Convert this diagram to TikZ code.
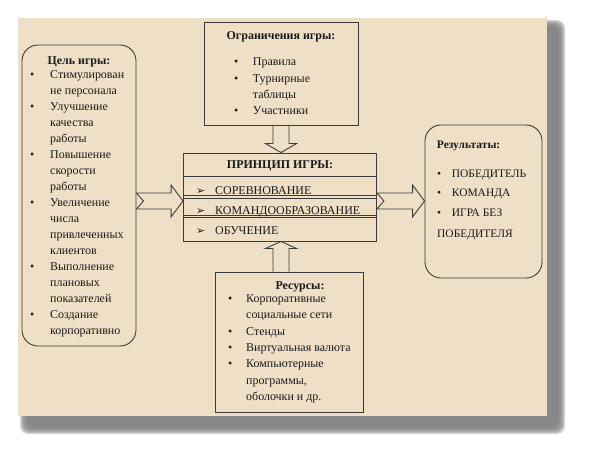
\documentclass[tikz,border=0pt]{standalone}
\usepackage{fontspec}
\setmainfont{Liberation Serif}
\newfontfamily\dingfont{DejaVu Sans}
\usepackage{tikz}
\usetikzlibrary{calc}
\definecolor{sheetBg}{HTML}{EFDFC7}
\definecolor{lineCol}{HTML}{3C3C3C}
\definecolor{textCol}{HTML}{1A1A1A}
\newcommand{\arrowmark}{{\dingfont\fontsize{11}{11}\selectfont ➢}}

\begin{document}
\begin{tikzpicture}[
    x=1bp, y=-1bp,
    box/.style={draw=lineCol, line width=0.9bp, inner sep=0pt},
    roundbox/.style={box, rounded corners=16bp},
    rowline/.style={draw=lineCol, line width=0.9bp},
    txt/.style={inner sep=0pt, anchor=base west, text=textCol,
                font=\fontsize{12}{16}\selectfont},
    head/.style={txt, anchor=base,
                 font=\fontsize{12}{16}\selectfont\bfseries},
    blockarr/.style={draw=lineCol, line width=0.9bp, line join=miter},
]
\useasboundingbox (0,0) rectangle (589,455);

% Sheet with its shadow
\foreach \i in {0,...,7}
  \fill[black!50, opacity=0.3, rounded corners=8bp]
    ({20+\i},{20+\i}) rectangle ({565-\i},{434-\i});
\fill[sheetBg] (18,18) rectangle (547,416);

% Boxes
\node[roundbox, minimum width=114bp, minimum height=301bp] (goal) at (79,195.5) {};
\node[box, minimum width=154bp, minimum height=103bp] (lim) at (281,73.5) {};
\node[box, minimum width=193bp, minimum height=88bp] (princ) at (280,197) {};
\node[roundbox, minimum width=117bp, minimum height=153bp] (res) at (483.5,201.5) {};
\node[box, minimum width=148bp, minimum height=140bp] (rsrc) at (289,342) {};

% Rows of the principle box
\draw[rowline] (princ.west |- 0,176) -- (princ.east |- 0,176);
\draw[rowline] (princ.west |- 0,195.5) -- (princ.east |- 0,195.5);
\draw[rowline] (princ.west |- 0,198) -- (princ.east |- 0,198);
\draw[rowline] (princ.west |- 0,215.5) -- (princ.east |- 0,215.5);
\draw[rowline] (princ.west |- 0,217.7) -- (princ.east |- 0,217.7);

% Goal of the game
\node[head] (goaltitle) at (79,65) {Цель игры:};
\node[txt] (goallist) at (30,79) {\begin{tabular}[t]{@{}p{20bp}@{}l@{}}
  • & Стимулирован\\
    & не персонала\\
  • & Улучшение\\
    & качества\\
    & работы\\
  • & Повышение\\
    & скорости\\
    & работы\\
  • & Увеличение\\
    & числа\\
    & привлеченных\\
    & клиентов\\
  • & Выполнение\\
    & плановых\\
    & показателей\\
  • & Создание\\
    & корпоративно
\end{tabular}};

% Limits of the game
\node[head] (limtitle) at (281,40) {Ограничения игры:};
\node[txt, font=\fontsize{12}{16.3}\selectfont] (limlist) at (234,66)
  {\begin{tabular}[t]{@{}p{18.7bp}@{}l@{}}
  • & Правила\\
  • & Турнирные\\
    & таблицы\\
  • & Участники
\end{tabular}};

% Principle of the game
\node[head] (princtitle) at (280,168.5) {ПРИНЦИП ИГРЫ:};
\node[txt, font=\fontsize{12}{20}\selectfont] (princlist) at (196,195)
  {\begin{tabular}[t]{@{}p{19bp}@{}l@{}}
  \arrowmark & СОРЕВНОВАНИЕ\\
  \arrowmark & КОМАНДООБРАЗОВАНИЕ\\
  \arrowmark & ОБУЧЕНИЕ
\end{tabular}};

% Results
\node[txt, font=\fontsize{11.5}{16}\selectfont\bfseries] (restitle) at (436.7,149) {Результаты:};
\node[txt, font=\fontsize{11.5}{19.5}\selectfont] (reslist) at (437,177.5)
  {\begin{tabular}[t]{@{}p{14.7bp}@{}l@{}}
  • & ПОБЕДИТЕЛЬ\\
  • & КОМАНДА\\
  • & ИГРА БЕЗ\\[2bp]
  \multicolumn{2}{@{}l@{}}{ПОБЕДИТЕЛЯ}
\end{tabular}};

% Resources
\node[head] (rsrctitle) at (300,290) {Ресурсы:};
\node[txt, font=\fontsize{12}{16.4}\selectfont] (rsrclist) at (228,302.5)
  {\begin{tabular}[t]{@{}p{18bp}@{}l@{}}
  • & Корпоративные\\
    & социальные сети\\
  • & Стенды\\
  • & Виртуальная валюта\\
  • & Компьютерные\\
    & программы,\\
    & оболочки и др.
\end{tabular}};

% Block arrows
\coordinate (lt) at (goal.east |- 0,201);
\coordinate (ltip) at (princ.west |- 0,201);
\draw[blockarr] ($(lt)+(0,-8)$) -- ($(ltip)+(-12,-8)$) -- ($(ltip)+(-12,-16)$)
  -- (ltip) -- ($(ltip)+(-12,16)$) -- ($(ltip)+(-12,8)$) -- ($(lt)+(0,8)$)
  -- ($(lt)+(7,0)$) -- cycle;
\coordinate (rt) at (princ.east |- 0,201);
\coordinate (rtip) at (res.west |- 0,201);
\draw[blockarr] ($(rt)+(0,-8)$) -- ($(rtip)+(-12,-8)$) -- ($(rtip)+(-12,-16)$)
  -- (rtip) -- ($(rtip)+(-12,16)$) -- ($(rtip)+(-12,8)$) -- ($(rt)+(0,8)$)
  -- ($(rt)+(7,0)$) -- cycle;
\coordinate (dt) at (lim.south);
\coordinate (dtip) at (lim.south |- princ.north);
\draw[blockarr] ($(dt)+(-8,0)$) -- ($(dtip)+(-8,-9)$) -- ($(dtip)+(-15.5,-9)$)
  -- (dtip) -- ($(dtip)+(15.5,-9)$) -- ($(dtip)+(8,-9)$) -- ($(dt)+(8,0)$);
\coordinate (ut) at (lim.south |- rsrc.north);
\coordinate (utip) at (lim.south |- princ.south);
\draw[blockarr] ($(ut)+(-8,0)$) -- ($(utip)+(-8,7)$) -- ($(utip)+(-15.5,7)$)
  -- (utip) -- ($(utip)+(15.5,7)$) -- ($(utip)+(8,7)$) -- ($(ut)+(8,0)$);
\end{tikzpicture}
\end{document}
